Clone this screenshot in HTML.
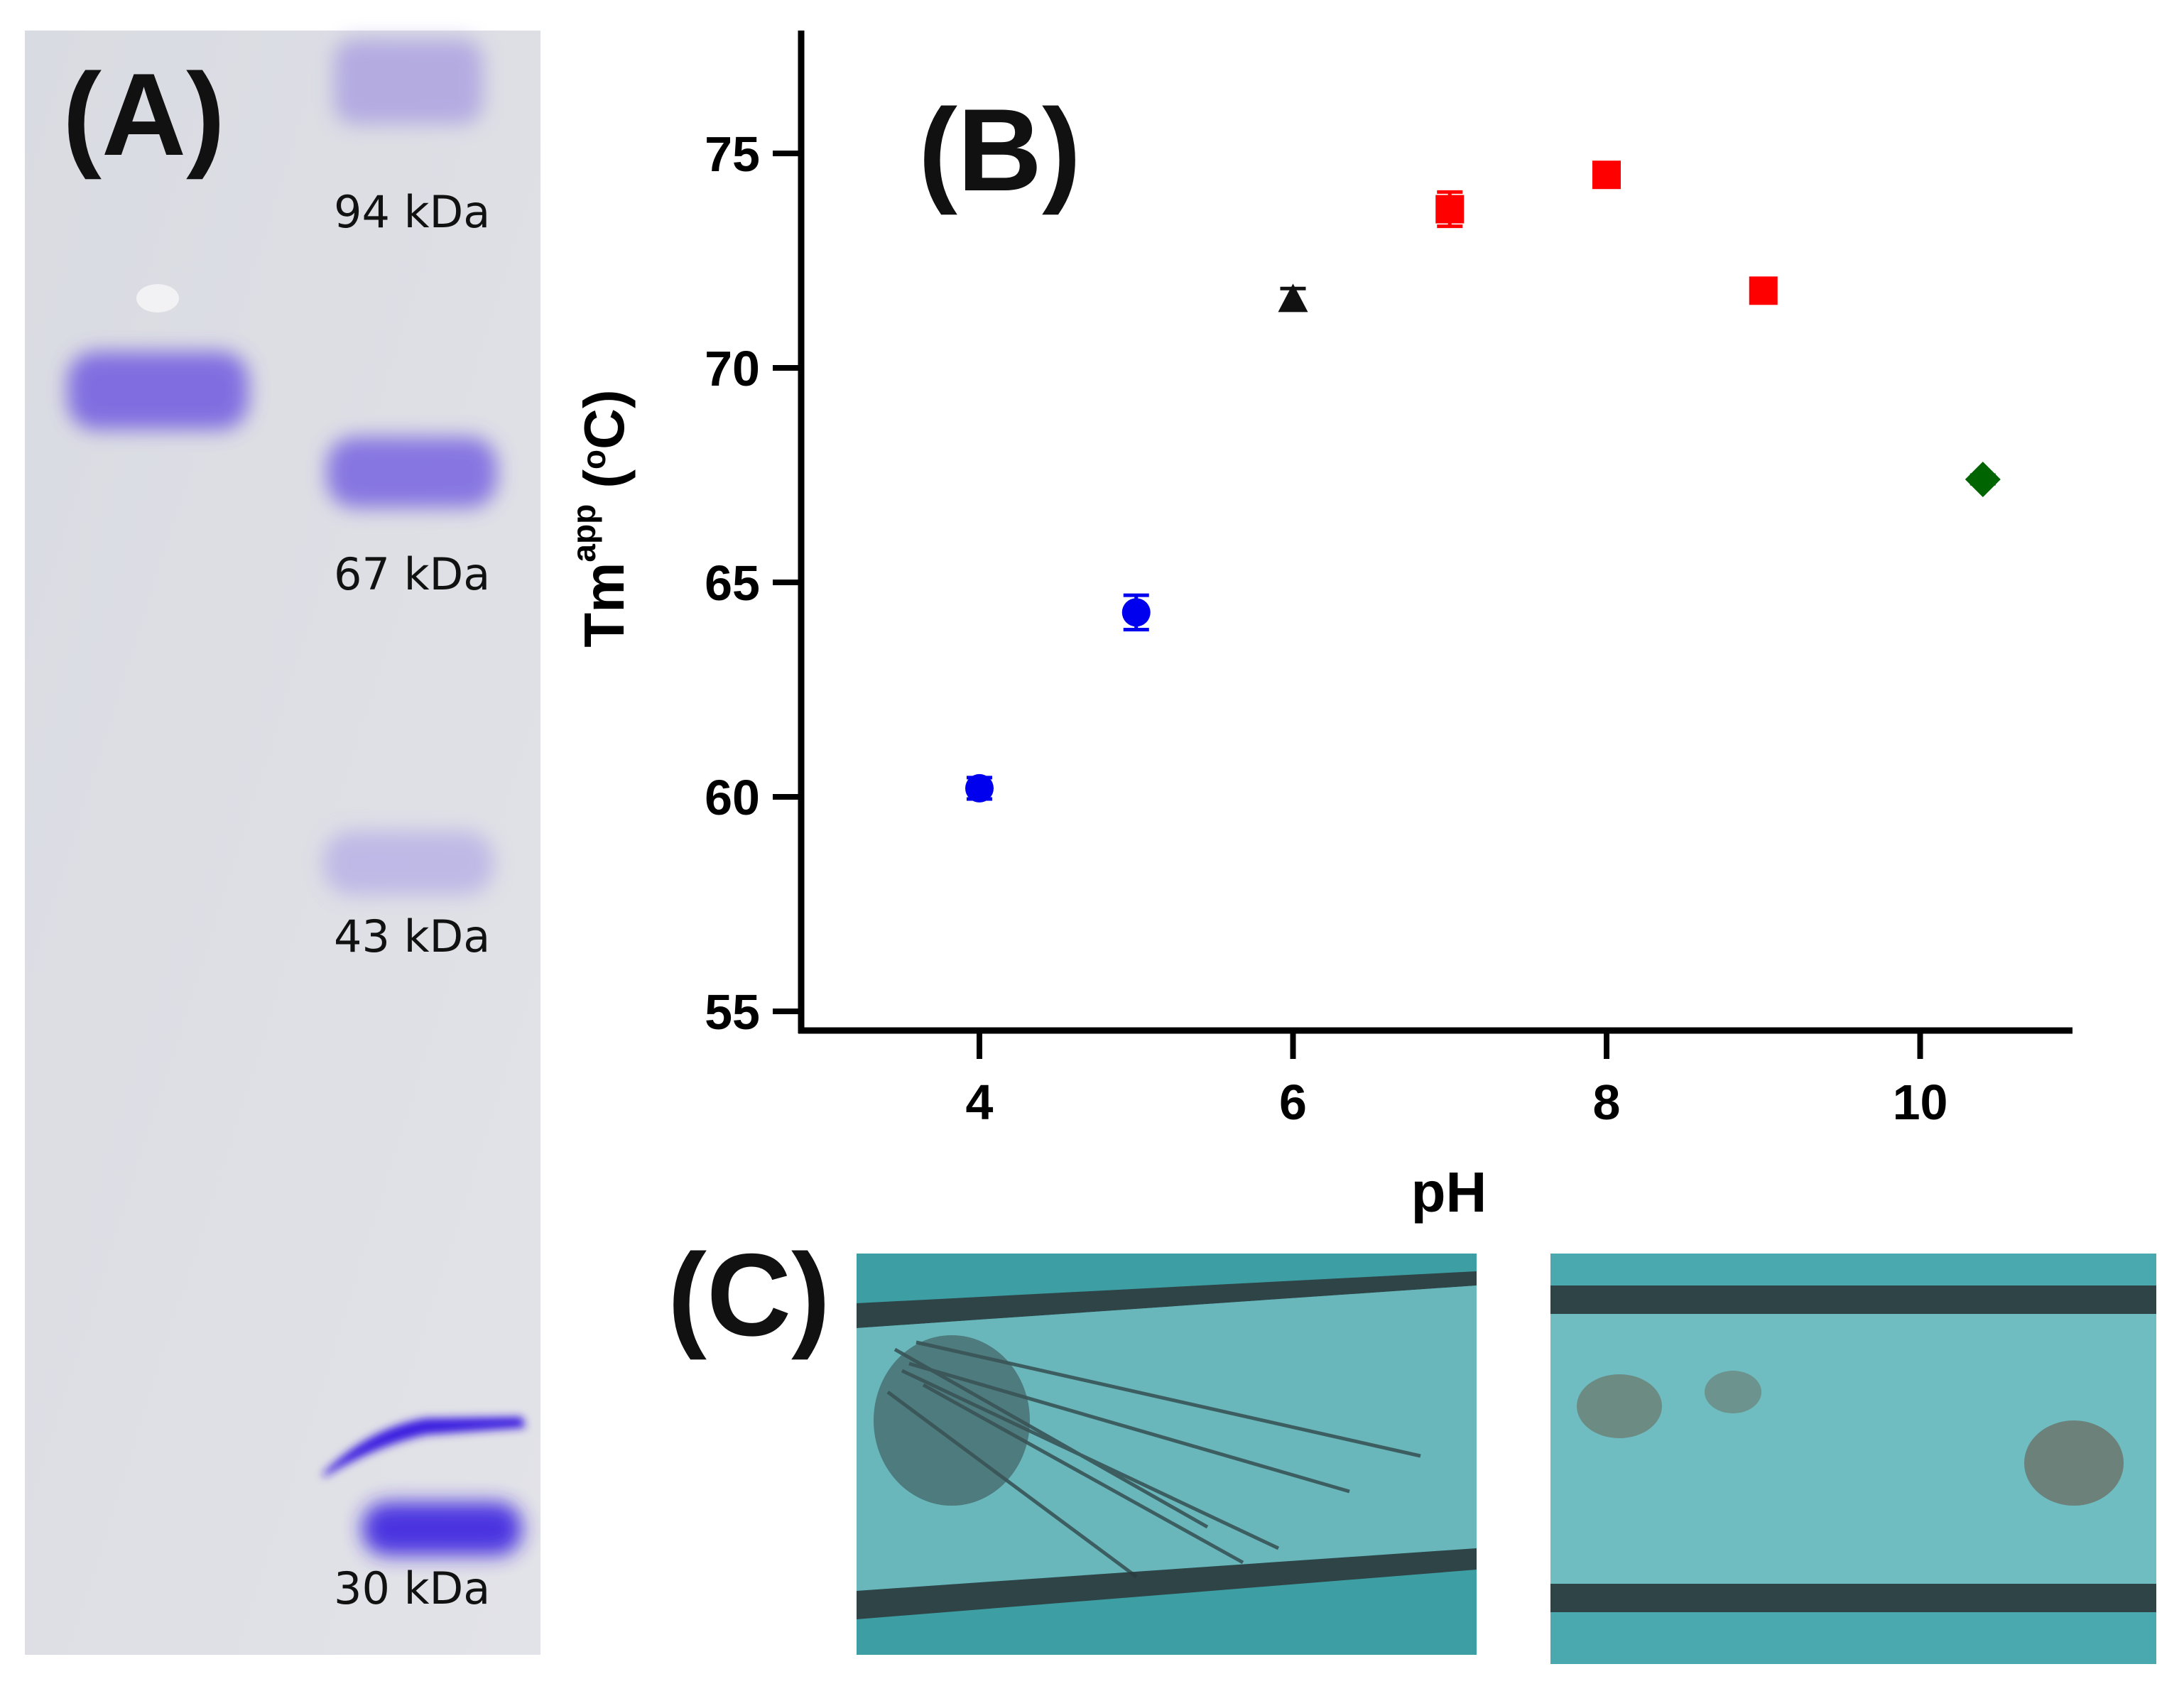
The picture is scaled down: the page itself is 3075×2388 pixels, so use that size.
<!DOCTYPE html>
<html><head><meta charset="utf-8">
<style>
html,body{margin:0;padding:0;background:#fff}
body{width:3075px;height:2383px;position:relative;overflow:hidden;font-family:"Liberation Sans",sans-serif}
</style></head>
<body>
<svg width="3075" height="2383" viewBox="0 0 3075 2383" xmlns="http://www.w3.org/2000/svg">
<defs>
<filter id="blur" x="-20%" y="-50%" width="140%" height="200%"><feGaussianBlur stdDeviation="14"/></filter>
<filter id="blur2" x="-20%" y="-50%" width="140%" height="200%"><feGaussianBlur stdDeviation="6"/></filter>
<linearGradient id="gelbg" x1="0" y1="0" x2="1" y2="1"><stop offset="0" stop-color="#d9dbe2"/><stop offset="1" stop-color="#e2e3e8"/></linearGradient>
</defs>

<g>
<rect x="35" y="43" width="726" height="2287" fill="url(#gelbg)"/>
<ellipse cx="222" cy="420" rx="30" ry="20" fill="#f2f2f4"/>
<rect x="95" y="495" width="255" height="110" rx="40" fill="#6a52e0" opacity="0.8" filter="url(#blur)"/>
<rect x="470" y="55" width="210" height="120" rx="30" fill="#9a8ae0" opacity="0.6" filter="url(#blur)"/>
<rect x="460" y="615" width="240" height="100" rx="40" fill="#6a52e0" opacity="0.75" filter="url(#blur)"/>
<rect x="455" y="1170" width="240" height="90" rx="40" fill="#a59ae6" opacity="0.55" filter="url(#blur)"/>
<path d="M455 2075 Q520 2010 600 1997 L735 1995 L740 2010 L600 2020 Q530 2035 455 2080 Z" fill="#3a1ee0" filter="url(#blur2)"/>
<rect x="510" y="2115" width="225" height="75" rx="35" fill="#3a20e0" opacity="0.9" filter="url(#blur)"/>
<text x="88" y="218" font-size="165" font-weight="bold" fill="#111">(A)</text>
<g font-size="62" fill="#111" font-family="DejaVu Sans, sans-serif">
<text x="470" y="320">94 kDa</text>
<text x="470" y="830">67 kDa</text>
<text x="470" y="1340">43 kDa</text>
<text x="470" y="2258">30 kDa</text>
</g>
</g>

<g id="chart"></g>
<text x="1293" y="268" font-size="165" font-weight="bold" fill="#111">(B)</text>
<text x="878" y="730" font-size="80" font-weight="bold" fill="#000" text-anchor="middle" transform="rotate(-90 878 730)">Tm<tspan font-size="46" dy="-40">app</tspan><tspan dy="40"> (</tspan><tspan font-size="46" dy="-26">o</tspan><tspan dy="26">C)</tspan></text>
<text x="2040" y="1706" font-size="80" font-weight="bold" fill="#000" text-anchor="middle">pH</text>

<text x="940" y="1880" font-size="165" font-weight="bold" fill="#111">(C)</text>
<g>
<rect x="1206" y="1765" width="873" height="565" fill="#3d9ea4"/>
<polygon points="1206,1835 2079,1790 2079,1810 1206,1870" fill="#2e4446"/>
<polygon points="1206,1870 2079,1810 2079,2180 1206,2240" fill="#69b6bb"/>
<polygon points="1206,2240 2079,2180 2079,2210 1206,2280" fill="#2e4446"/>
<path d="M1260 1900 L1700 2150 M1280 1920 L1900 2100 M1300 1950 L1750 2200 M1250 1960 L1600 2220 M1290 1890 L2000 2050 M1270 1930 L1800 2180" stroke="#2b3a3c" stroke-width="5" opacity="0.7"/>
<ellipse cx="1340" cy="2000" rx="110" ry="120" fill="#3b5355" opacity="0.6"/>
</g>
<g>
<rect x="2183" y="1765" width="853" height="578" fill="#4aa9ae"/>
<rect x="2183" y="1810" width="853" height="40" fill="#2e4446"/>
<rect x="2183" y="1850" width="853" height="380" fill="#6fbcc1"/>
<rect x="2183" y="2230" width="853" height="40" fill="#2e4446"/>
<ellipse cx="2280" cy="1980" rx="60" ry="45" fill="#6a6a5a" opacity="0.6"/>
<ellipse cx="2440" cy="1960" rx="40" ry="30" fill="#6a6a5a" opacity="0.5"/>
<ellipse cx="2920" cy="2060" rx="70" ry="60" fill="#6a5a4a" opacity="0.6"/>
</g>
</svg>
<script>
const phValues = [4, 5, 6, 7, 8, 9, 10.4];
const tmValues = [60.2, 64.3, 71.6, 73.7, 74.5, 71.8, 67.4];
const tmErrors = [0.25, 0.4, 0.25, 0.4, 0.15, 0.15, 0.1];
const markerShapes = ["circle","circle","triangle","square","square","square","diamond"];
const markerColors = ["#0000ee","#0000ee","#111111","#ff0000","#ff0000","#ff0000","#006400"];
const xTicks = [4, 6, 8, 10];
const yTicks = [55, 60, 65, 70, 75];

const NS = "http://www.w3.org/2000/svg";
const g = document.getElementById('chart');
const xScale = v => 1379 + (v - 4) * 220.75;
const yScale = v => 1424 - (v - 55) * 60.4;
const X0 = 1128, X1 = 2918, Y0 = 1451, YTOP = 43;
function mk(tag, attrs){const e=document.createElementNS(NS,tag);for(const k in attrs)e.setAttribute(k,attrs[k]);g.appendChild(e);return e;}

const yAxis = mk('line',{x1:X0,y1:YTOP,x2:X0,y2:Y0+4,stroke:'#000','stroke-width':9});


const xAxis = mk('line',{x1:X0-4,y1:Y0,x2:X1,y2:Y0,stroke:'#000','stroke-width':9});



yTicks.forEach(t=>{
  const y=yScale(t);
  const l=mk('line',{x1:X0-40,y1:y,x2:X0,y2:y,stroke:'#000','stroke-width':8});
  
  
  const tx=mk('text',{x:X0-58,y:y+25,'font-size':70,'font-weight':'bold','text-anchor':'end',fill:'#000'});
  tx.textContent=t;
  
  
});
xTicks.forEach(t=>{
  const x=xScale(t);
  const l=mk('line',{x1:x,y1:Y0,x2:x,y2:Y0+40,stroke:'#000','stroke-width':8});
  
  
  const tx=mk('text',{x:x,y:Y0+125,'font-size':70,'font-weight':'bold','text-anchor':'middle',fill:'#000'});
  tx.textContent=t;
  
  
});

phValues.forEach((ph,i)=>{
  const cx=xScale(ph), cy=yScale(tmValues[i]);
  const c=markerColors[i];
  const ey1=yScale(tmValues[i]+tmErrors[i]), ey2=yScale(tmValues[i]-tmErrors[i]);
  const eb=mk('path',{d:`M${cx-18} ${ey1} H${cx+18} M${cx} ${ey1} V${ey2} M${cx-18} ${ey2} H${cx+18}`,stroke:c,'stroke-width':5,fill:'none'});
  
  
  let m;
  const s=markerShapes[i];
  if(s==='circle') m=mk('circle',{cx:cx,cy:cy,r:20,fill:c});
  else if(s==='square') m=mk('rect',{x:cx-20,y:cy-20,width:40,height:40,fill:c});
  else if(s==='triangle') m=mk('polygon',{points:`${cx},${cy-22} ${cx+21},${cy+18} ${cx-21},${cy+18}`,fill:c});
  else m=mk('polygon',{points:`${cx},${cy-25} ${cx+25},${cy} ${cx},${cy+25} ${cx-25},${cy}`,fill:c});
  
  
});
</script>
</body></html>
